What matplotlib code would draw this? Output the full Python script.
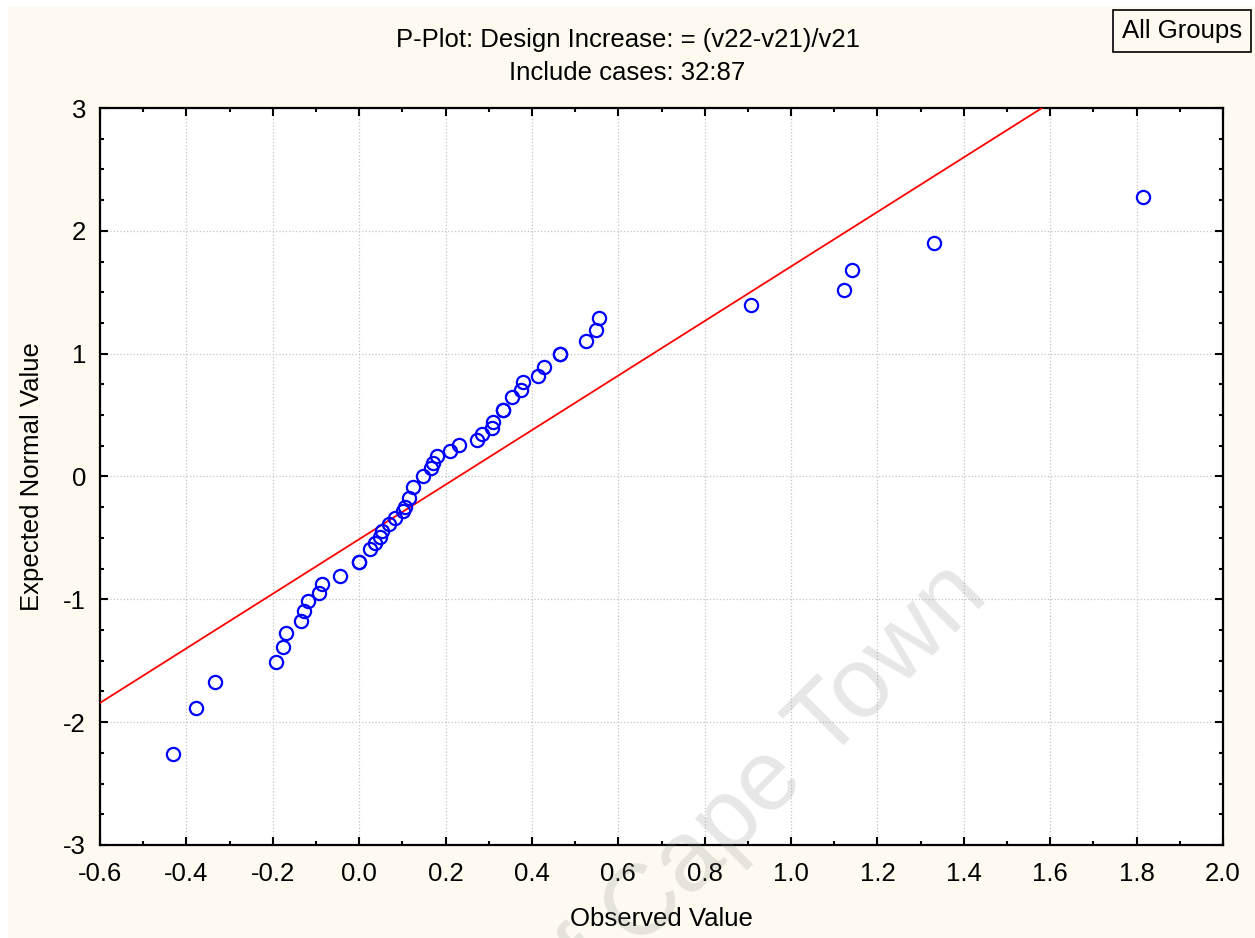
import matplotlib.pyplot as plt
from matplotlib.ticker import MultipleLocator

plt.rcParams['font.family'] = ['Liberation Sans', 'DejaVu Sans']
plt.rcParams['axes.unicode_minus'] = False

# Observed values and their expected normal values (ties listed twice)
observed = [-0.430, -0.377, -0.334, -0.192, -0.177, -0.169, -0.135, -0.128,
            -0.119, -0.093, -0.086, -0.044, 0.000, 0.000, 0.025, 0.037,
            0.048, 0.053, 0.070, 0.084, 0.102, 0.107, 0.115, 0.124,
            0.147, 0.166, 0.172, 0.181, 0.210, 0.232, 0.272, 0.284,
            0.307, 0.310, 0.334, 0.334, 0.353, 0.374, 0.380, 0.415,
            0.428, 0.466, 0.466, 0.525, 0.549, 0.555, 0.907, 1.123,
            1.140, 1.332, 1.815]
expected = [-2.258, -1.886, -1.672, -1.509, -1.384, -1.275, -1.178, -1.099,
            -1.015, -0.947, -0.874, -0.809, -0.695, -0.695, -0.588, -0.542,
            -0.493, -0.440, -0.385, -0.336, -0.282, -0.250, -0.173, -0.087,
            0.000, 0.071, 0.113, 0.164, 0.207, 0.253, 0.295, 0.345,
            0.397, 0.445, 0.543, 0.543, 0.647, 0.704, 0.766, 0.818,
            0.889, 0.994, 0.994, 1.103, 1.190, 1.287, 1.396, 1.518,
            1.681, 1.901, 2.275]

# reference normal line: expected = (observed - mean) / sd
line_mean = 0.230
line_sd = 0.4503
line_x = [-0.6, 2.0]

fs = 18.5

fig = plt.figure(figsize=(12.55, 9.38), dpi=100)
fig.patch.set_facecolor('white')

# cream page behind the plot
bg = fig.add_axes([8 / 1255, 0, 1, 1 - 7 / 938], zorder=-10)
bg.set_facecolor('#fefaf0')
bg.set_xticks([])
bg.set_yticks([])
for s in bg.spines.values():
    s.set_visible(False)

ax = fig.add_axes([100 / 1255, 1 - 845 / 938, 1123 / 1255, 737 / 938])
ax.set_facecolor('white')

ax.grid(True, which='major', color='#c4c4c4', linestyle=':', linewidth=0.9)
ax.set_axisbelow(True)

ax.plot(line_x, [(v - line_mean) / line_sd for v in line_x], color='#ff0000', linewidth=1.3, zorder=3)
ax.plot(observed, expected, linestyle='none', marker='o', markersize=9.5,
        markerfacecolor='none', markeredgecolor='#0000ff', markeredgewidth=1.6, zorder=4)

ax.set_xlim(-0.6, 2.0)
ax.set_ylim(-3, 3)
ax.xaxis.set_major_locator(MultipleLocator(0.2))
ax.xaxis.set_minor_locator(MultipleLocator(0.1))
ax.yaxis.set_major_locator(MultipleLocator(1))
ax.yaxis.set_minor_locator(MultipleLocator(0.25))
ax.xaxis.set_major_formatter(plt.FuncFormatter(lambda v, p: f'{v:.1f}'))
ax.tick_params(which='both', direction='in', top=True, right=True, width=1.5, labelsize=fs)
ax.tick_params(which='major', length=6)
ax.tick_params(which='minor', length=3)
ax.tick_params(axis='x', pad=12)
ax.tick_params(axis='y', pad=10)
for s in ax.spines.values():
    s.set_linewidth(1.6)

ax.set_xlabel('Observed Value', fontsize=fs, labelpad=15)
ax.set_ylabel('Expected Normal Value', fontsize=fs, labelpad=14)

fig.text(0.5, 1 - 40 / 938, 'P-Plot: Design Increase: = (v22-v21)/v21', ha='center', va='center', fontsize=fs)
fig.text(0.5, 1 - 73 / 938, 'Include cases: 32:87', ha='center', va='center', fontsize=fs)
fig.text(1182 / 1255, 1 - 31 / 938, 'All Groups', ha='center', va='center', fontsize=fs,
         bbox=dict(boxstyle='square,pad=0.35', facecolor='none', edgecolor='black', linewidth=1.2))

# watermark
fig.text(990 / 1255, 1 - 598 / 938, 'University of Cape Town', rotation=45, rotation_mode='anchor',
         ha='right', va='baseline', fontsize=72, color='#888888', alpha=0.2, zorder=10)

plt.savefig('out.png', dpi=100, facecolor=fig.get_facecolor())
